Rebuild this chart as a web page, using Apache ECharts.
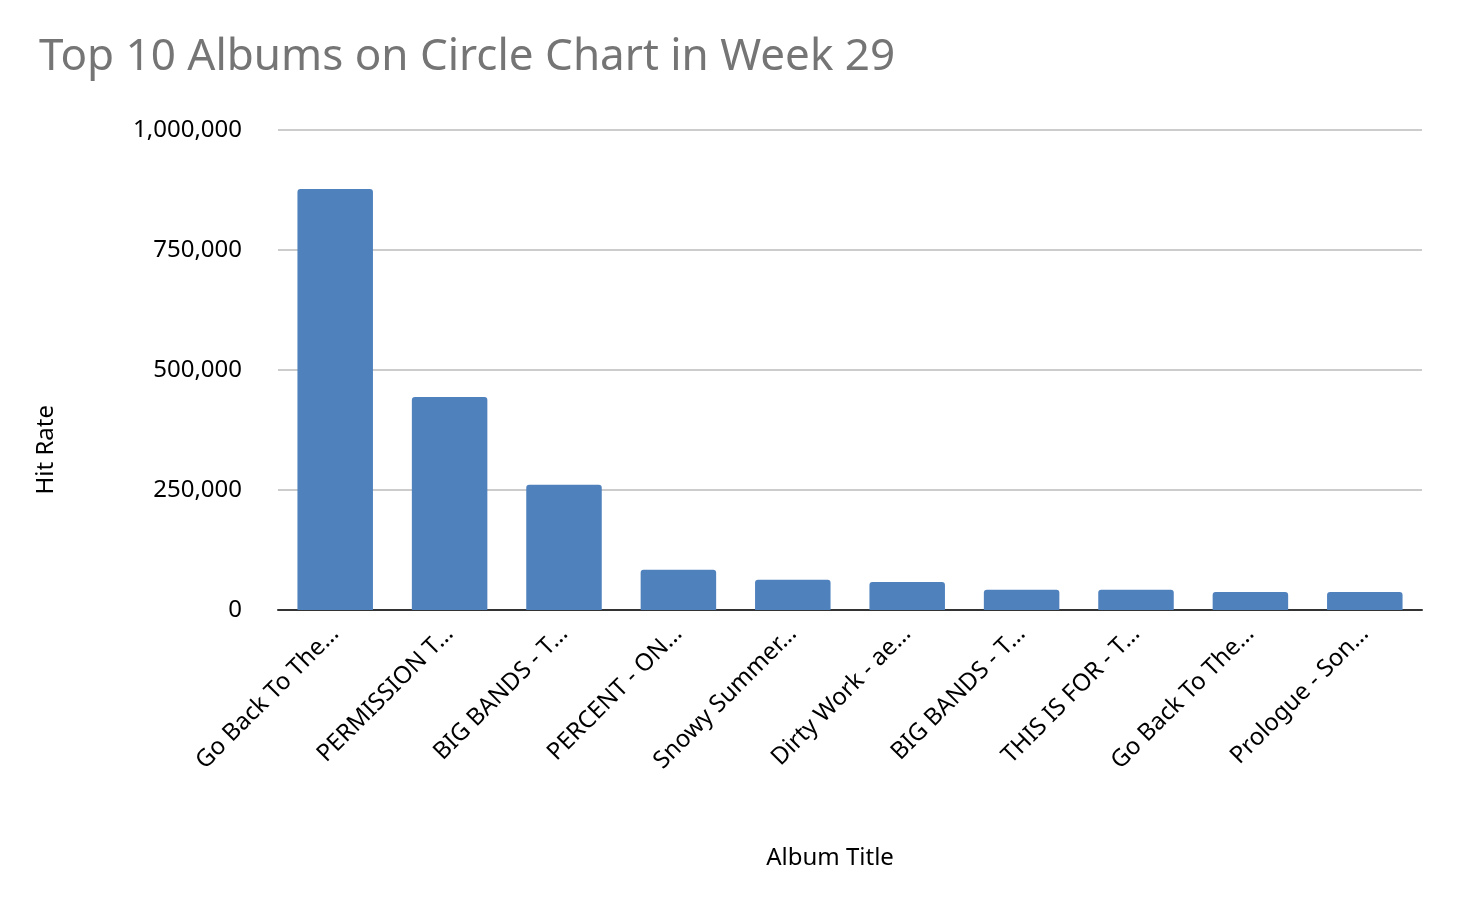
<!DOCTYPE html>
<html><head><meta charset="utf-8">
<script src="https://cdn.jsdelivr.net/npm/echarts@6/dist/echarts.min.js"></script>
<style>html,body{margin:0;padding:0;background:#fff}#c{width:1478px;height:909px}</style>
</head><body><div id="c"></div>
<script>
const categories = ["Go Back To The…","PERMISSION T…","BIG BANDS - T…","PERCENT - ON…","Snowy Summer…","Dirty Work - ae…","BIG BANDS - T…","THIS IS FOR - T…","Go Back To The…","Prologue - Son…"];
const hitRate = [877000, 444000, 261000, 84000, 63000, 58500, 42000, 42000, 37500, 37500];
const yTicks = [0, 250000, 500000, 750000, 1000000];
const chart = echarts.init(document.getElementById('c'));
chart.setOption({
  textStyle:{fontFamily:'Noto Sans'},
  title:{text:'Top 10 Albums on Circle Chart in Week 29',left:34,top:30,textStyle:{fontSize:44,fontWeight:'normal',color:'#757575',fontFamily:'Noto Sans'}},
  graphic:[{type:'text',left:34,top:405,rotation:Math.PI/2,style:{text:'Hit Rate',fontSize:24,fill:'#000',fontFamily:'Noto Sans'}}],
  grid:{left:278,right:56,top:130,bottom:299},
  xAxis:{type:'category',data:categories,name:'Album Title',nameLocation:'middle',nameGap:236,
    nameTextStyle:{fontSize:24,color:'#000',padding:[0,0,0,-40]},
    axisLine:{lineStyle:{color:'#333',width:2}},axisTick:{show:false},
    axisLabel:{rotate:45,fontSize:24,color:'#000',margin:20,interval:0}},
  yAxis:{type:'value',min:yTicks[0],max:yTicks[yTicks.length-1],interval:250000,
    axisLabel:{fontSize:24,color:'#000',margin:36,formatter:v=>v.toLocaleString('en-US')},
    splitLine:{lineStyle:{color:'#ccc',width:2}},axisLine:{show:false}},
  series:[{type:'bar',data:hitRate,barCategoryGap:'34%',itemStyle:{color:'#4f81bd',borderRadius:[3,3,0,0]}}]
});
</script></body></html>
